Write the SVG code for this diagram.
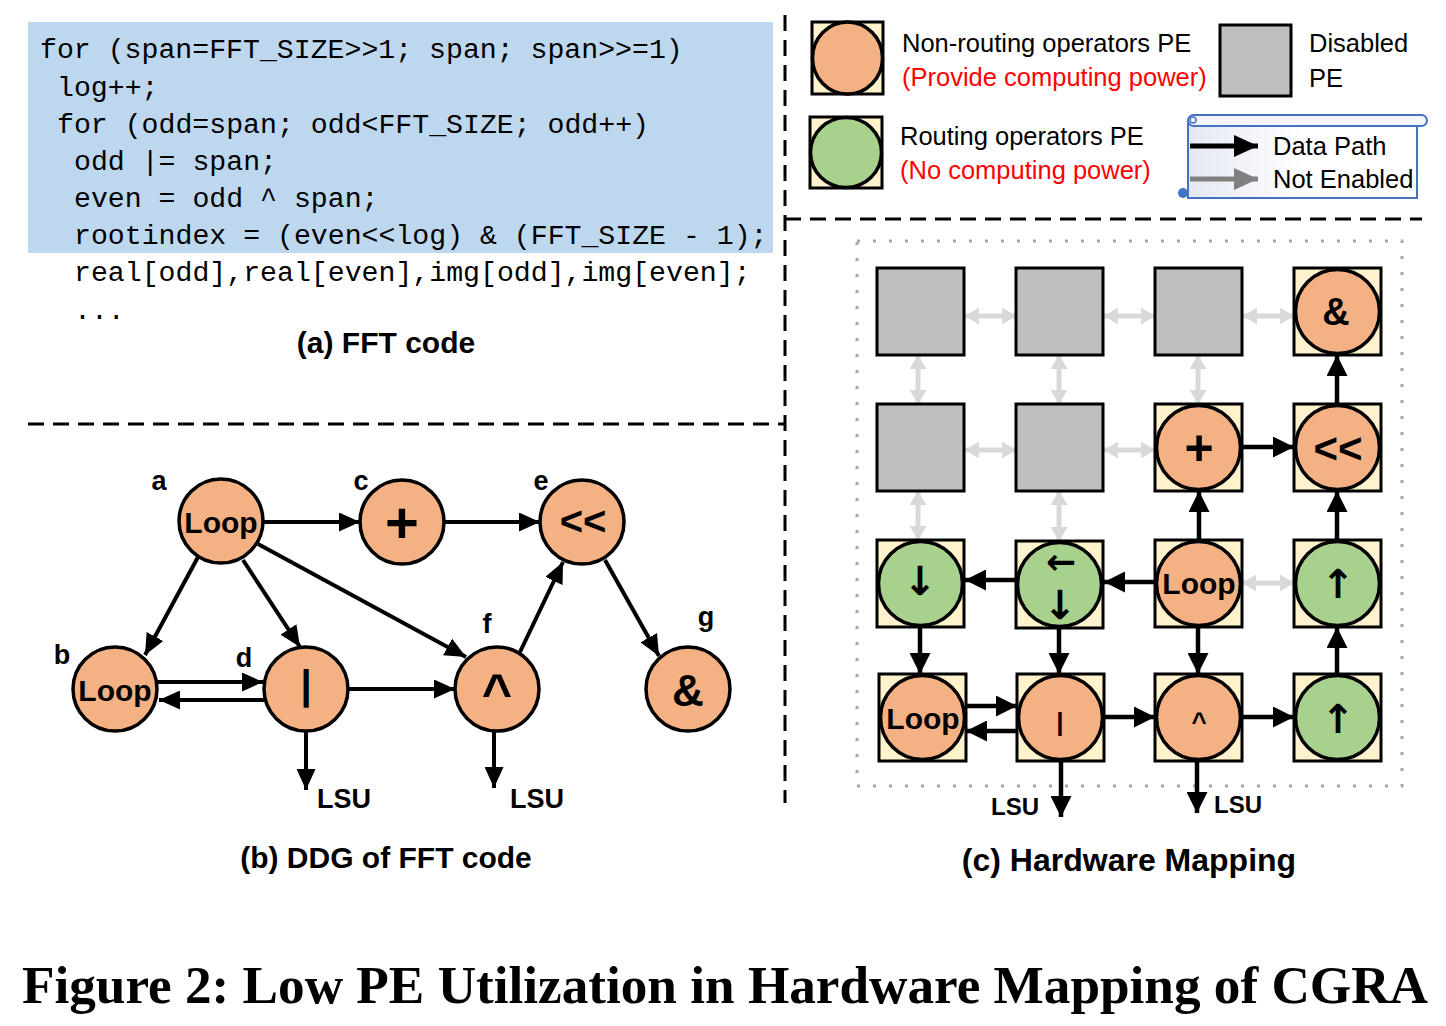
<svg xmlns="http://www.w3.org/2000/svg" width="1446" height="1026" viewBox="0 0 1446 1026">
<style>
.code{font-family:"Liberation Mono","DejaVu Sans Mono",monospace;font-size:28.2px;fill:#000}
.cap{font-family:"Liberation Sans",Arial,sans-serif;font-weight:bold;font-size:30px;text-anchor:middle;fill:#000}
.leg{font-family:"Liberation Sans",Arial,sans-serif;font-size:25.5px;fill:#000}
.red{fill:#ff0000}
.b{font-family:"Liberation Sans",Arial,sans-serif;font-weight:bold;text-anchor:middle;fill:#000}
.ar{font-family:"DejaVu Sans",sans-serif;font-weight:bold;text-anchor:middle;fill:#000}
.op{fill:#f4b183;stroke:#000;stroke-width:3.5}
.gr{fill:#a9d18e;stroke:#000;stroke-width:3.5}
.cell{fill:#fff2cc;stroke:#000;stroke-width:3}
.dis{fill:#bfbfbf;stroke:#000;stroke-width:3}
.dash{stroke:#000;stroke-width:3;stroke-dasharray:16 9;fill:none}
.e{stroke:#000;stroke-width:4;fill:none;marker-end:url(#ah)}
.h{stroke:#000;stroke-width:4.5;fill:none;marker-end:url(#hh)}
.g{stroke:#d9d9d9;stroke-width:5;fill:none;marker-start:url(#gh);marker-end:url(#gh)}
</style>
<defs>
<marker id="ah" markerUnits="userSpaceOnUse" markerWidth="21" markerHeight="19" refX="21" refY="9.5" orient="auto"><path d="M0,0 L21,9.5 L0,19 z" fill="#000"/></marker>
<marker id="hh" markerUnits="userSpaceOnUse" markerWidth="21" markerHeight="21" refX="21" refY="10.5" orient="auto"><path d="M0,0 L21,10.5 L0,21 z" fill="#000"/></marker>
<marker id="gh" markerUnits="userSpaceOnUse" markerWidth="14" markerHeight="17" refX="14" refY="8.5" orient="auto-start-reverse"><path d="M0,0 L14,8.5 L0,17 z" fill="#d9d9d9"/></marker>
<marker id="lb" markerUnits="userSpaceOnUse" markerWidth="24" markerHeight="22" refX="24" refY="11" orient="auto"><path d="M0,0 L24,11 L0,22 z" fill="#000"/></marker>
<marker id="lg" markerUnits="userSpaceOnUse" markerWidth="24" markerHeight="22" refX="24" refY="11" orient="auto"><path d="M0,0 L24,11 L0,22 z" fill="#808080"/></marker>
<linearGradient id="scr" x1="0" y1="0" x2="1" y2="0"><stop offset="0" stop-color="#e4e8f2"/><stop offset="0.5" stop-color="#ffffff"/><stop offset="1" stop-color="#ffffff"/></linearGradient>
</defs>
<rect width="1446" height="1026" fill="#fff"/>

<!-- (a) code -->
<g id="code">
<rect x="28" y="22" width="745" height="231" fill="#bdd7ee"/>
<text class="code" x="40" y="58">for (span=FFT_SIZE&gt;&gt;1; span; span&gt;&gt;=1)</text>
<text class="code" x="57" y="96">log++;</text>
<text class="code" x="57" y="133">for (odd=span; odd&lt;FFT_SIZE; odd++)</text>
<text class="code" x="74" y="170">odd |= span;</text>
<text class="code" x="74" y="207">even = odd ^ span;</text>
<text class="code" x="74" y="244">rootindex = (even&lt;&lt;log) &amp; (FFT_SIZE - 1);</text>
<text class="code" x="74" y="281">real[odd],real[even],img[odd],img[even];</text>
<text class="code" x="74" y="319">...</text>
<text class="cap" x="386" y="353">(a) FFT code</text>
</g>

<!-- dashed separators -->
<g id="separators">
<line class="dash" x1="785" y1="15" x2="785" y2="803"/>
<line class="dash" x1="28" y1="424" x2="785" y2="424"/>
<line class="dash" x1="785" y1="219" x2="1422" y2="219"/>
</g>

<!-- legend -->
<g id="legend-op">
<rect class="cell" x="812" y="22" width="71" height="72"/>
<ellipse class="op" cx="847.5" cy="58" rx="35" ry="36"/>
<text class="leg" x="902" y="52">Non-routing operators PE</text>
<text class="leg red" x="902" y="86">(Provide computing power)</text>
</g>
<g id="legend-disabled">
<rect class="dis" x="1220" y="25" width="71" height="71"/>
<text class="leg" x="1309" y="52">Disabled</text>
<text class="leg" x="1309" y="87">PE</text>
</g>
<g id="legend-route">
<rect class="cell" x="810" y="117" width="72" height="71"/>
<ellipse class="gr" cx="846" cy="152.5" rx="35.5" ry="35"/>
<text class="leg" x="900" y="145">Routing operators PE</text>
<text class="leg red" x="900" y="179">(No computing power)</text>
</g>
<g id="legend-paths">
<path d="M1188,122 L1188,198 L1417,198 L1417,122 Z" fill="url(#scr)" stroke="#4472c4" stroke-width="2"/>
<rect x="1188" y="115" width="239" height="11" rx="5.5" fill="#f4f6fb" stroke="#4472c4" stroke-width="2"/>
<circle cx="1193" cy="120" r="3" fill="none" stroke="#4472c4" stroke-width="1.5"/>
<circle cx="1183" cy="193" r="5" fill="#4472c4"/>
<line x1="1190" y1="146" x2="1258" y2="146" stroke="#000" stroke-width="5" marker-end="url(#lb)"/>
<line x1="1190" y1="179" x2="1258" y2="179" stroke="#808080" stroke-width="5" marker-end="url(#lg)"/>
<text class="leg" x="1273" y="155">Data Path</text>
<text class="leg" x="1273" y="188">Not Enabled</text>
</g>

<!-- (b) DDG -->
<g id="ddg-edges">
<line class="e" x1="263" y1="522" x2="360" y2="522"/>
<line class="e" x1="444" y1="522" x2="540" y2="522"/>
<line class="e" x1="198" y1="557" x2="145" y2="655"/>
<line class="e" x1="243" y1="560" x2="300" y2="647"/>
<line class="e" x1="258" y1="544" x2="466" y2="657"/>
<line class="e" x1="157" y1="682" x2="263" y2="682"/>
<line class="e" x1="265" y1="700" x2="159" y2="700"/>
<line class="e" x1="348" y1="689" x2="455" y2="689"/>
<line class="e" x1="520" y1="652" x2="563" y2="562"/>
<line class="e" x1="605" y1="560" x2="659" y2="656"/>
<line class="e" x1="306" y1="731" x2="306" y2="790"/>
<line class="e" x1="494" y1="731" x2="494" y2="788"/>
</g>
<g id="ddg-a"><circle class="op" cx="221" cy="521" r="42"/><text class="b" x="221" y="533" font-size="30">Loop</text><text class="b" x="159" y="490" font-size="27">a</text></g>
<g id="ddg-c"><circle class="op" cx="402" cy="522" r="42"/><text class="b" x="402" y="543" font-size="58">+</text><text class="b" x="361" y="490" font-size="27">c</text></g>
<g id="ddg-e"><circle class="op" cx="582" cy="522" r="42"/><text class="b" x="583" y="535" font-size="40">&lt;&lt;</text><text class="b" x="541" y="490" font-size="27">e</text></g>
<g id="ddg-b"><circle class="op" cx="115" cy="689" r="42"/><text class="b" x="115" y="701" font-size="30">Loop</text><text class="b" x="62" y="664" font-size="27">b</text></g>
<g id="ddg-d"><circle class="op" cx="306" cy="689" r="42"/><text class="b" x="306" y="699" font-size="40">|</text><text class="b" x="244" y="667" font-size="27">d</text></g>
<g id="ddg-f"><circle class="op" cx="497" cy="689" r="42"/><text class="b" x="497" y="710" font-size="52">^</text><text class="b" x="487" y="633" font-size="27">f</text></g>
<g id="ddg-g"><circle class="op" cx="688" cy="689" r="42"/><text class="b" x="688" y="706" font-size="44">&amp;</text><text class="b" x="706" y="626" font-size="27">g</text></g>
<g id="ddg-lsu">
<text class="b" x="344" y="808" font-size="27">LSU</text>
<text class="b" x="537" y="808" font-size="27">LSU</text>
</g>
<text class="cap" x="386" y="868">(b) DDG of FFT code</text>

<!-- (c) Hardware mapping -->
<rect id="cgra-border" x="857" y="241" width="545" height="545" fill="none" stroke="#a6a6a6" stroke-width="3" stroke-dasharray="3 13"/>
<g id="hw-edges">
<line class="g" x1="965" y1="316" x2="1016" y2="316"/>
<line class="g" x1="1104" y1="316" x2="1155" y2="316"/>
<line class="g" x1="1243" y1="316" x2="1294" y2="316"/>
<line class="g" x1="965" y1="450" x2="1016" y2="450"/>
<line class="g" x1="1104" y1="450" x2="1155" y2="450"/>
<line class="g" x1="918" y1="355" x2="918" y2="404"/>
<line class="g" x1="1059" y1="355" x2="1059" y2="404"/>
<line class="g" x1="1198" y1="355" x2="1198" y2="404"/>
<line class="g" x1="918" y1="491" x2="918" y2="540"/>
<line class="g" x1="1059" y1="491" x2="1059" y2="541"/>
<line class="g" x1="1242" y1="583" x2="1294" y2="583"/>
<line class="h" x1="1242" y1="447" x2="1294" y2="447"/>
<line class="h" x1="1337" y1="404" x2="1337" y2="355"/>
<line class="h" x1="1199" y1="540" x2="1199" y2="491"/>
<line class="h" x1="1337" y1="540" x2="1337" y2="491"/>
<line class="h" x1="1155" y1="582" x2="1104" y2="582"/>
<line class="h" x1="1016" y1="580" x2="965" y2="580"/>
<line class="h" x1="920" y1="627" x2="920" y2="674"/>
<line class="h" x1="1059" y1="627" x2="1059" y2="674"/>
<line class="h" x1="1198" y1="627" x2="1198" y2="674"/>
<line class="h" x1="1337" y1="674" x2="1337" y2="627"/>
<line class="h" x1="966" y1="706" x2="1017" y2="706"/>
<line class="h" x1="1017" y1="731" x2="966" y2="731"/>
<line class="h" x1="1104" y1="717" x2="1155" y2="717"/>
<line class="h" x1="1242" y1="717" x2="1294" y2="717"/>
<line class="h" x1="1061" y1="761" x2="1061" y2="817"/>
<line class="h" x1="1197" y1="761" x2="1197" y2="813"/>
</g>
<g id="pe-r0c0"><rect class="dis" x="877" y="268" width="87" height="87"/></g>
<g id="pe-r0c1"><rect class="dis" x="1016" y="268" width="87" height="87"/></g>
<g id="pe-r0c2"><rect class="dis" x="1155" y="268" width="87" height="87"/></g>
<g id="pe-r0c3"><rect class="cell" x="1294" y="268" width="87" height="87"/><circle class="op" cx="1337.5" cy="311.5" r="42"/><text class="b" x="1336" y="325" font-size="38">&amp;</text></g>
<g id="pe-r1c0"><rect class="dis" x="877" y="404" width="87" height="87"/></g>
<g id="pe-r1c1"><rect class="dis" x="1016" y="404" width="87" height="87"/></g>
<g id="pe-r1c2"><rect class="cell" x="1155" y="404" width="87" height="87"/><circle class="op" cx="1198.5" cy="447.5" r="42"/><text class="b" x="1199" y="465" font-size="50">+</text></g>
<g id="pe-r1c3"><rect class="cell" x="1294" y="404" width="87" height="87"/><circle class="op" cx="1337.5" cy="447.5" r="42"/><text class="b" x="1338" y="463" font-size="42">&lt;&lt;</text></g>
<g id="pe-r2c0"><rect class="cell" x="877" y="540" width="87" height="87"/><circle class="gr" cx="920.5" cy="583.5" r="42"/><text class="ar" x="920" y="595" font-size="40">↓</text></g>
<g id="pe-r2c1"><rect class="cell" x="1016" y="541" width="87" height="87"/><circle class="gr" cx="1059.5" cy="584.5" r="42"/><text class="ar" x="1061" y="574" font-size="36">←</text><text class="ar" x="1060" y="619" font-size="40">↓</text></g>
<g id="pe-r2c2"><rect class="cell" x="1155" y="540" width="87" height="87"/><circle class="op" cx="1198.5" cy="583.5" r="42"/><text class="b" x="1199" y="594" font-size="30">Loop</text></g>
<g id="pe-r2c3"><rect class="cell" x="1294" y="540" width="87" height="87"/><circle class="gr" cx="1337.5" cy="583.5" r="42"/><text class="ar" x="1338" y="598" font-size="40">↑</text></g>
<g id="pe-r3c0"><rect class="cell" x="879" y="674" width="87" height="87"/><circle class="op" cx="922.5" cy="717.5" r="42"/><text class="b" x="923" y="729" font-size="30">Loop</text></g>
<g id="pe-r3c1"><rect class="cell" x="1017" y="674" width="87" height="87"/><circle class="op" cx="1060.5" cy="717.5" r="42"/><text class="b" x="1060" y="731" font-size="26" font-weight="normal">|</text></g>
<g id="pe-r3c2"><rect class="cell" x="1155" y="674" width="87" height="87"/><circle class="op" cx="1198.5" cy="717.5" r="42"/><text class="b" x="1199" y="731" font-size="26">^</text></g>
<g id="pe-r3c3"><rect class="cell" x="1294" y="674" width="87" height="87"/><circle class="gr" cx="1337.5" cy="717.5" r="42"/><text class="ar" x="1338" y="733" font-size="40">↑</text></g>
<g id="hw-lsu">
<text class="b" x="1015" y="815" font-size="24">LSU</text>
<text class="b" x="1238" y="813" font-size="24">LSU</text>
</g>
<text class="cap" x="1129" y="871" style="font-size:32px">(c) Hardware Mapping</text>

<text x="22" y="1003" font-family="'Liberation Serif','Times New Roman',serif" font-weight="bold" font-size="53" fill="#000" textLength="1406" lengthAdjust="spacingAndGlyphs">Figure 2: Low PE Utilization in Hardware Mapping of CGRA</text>
</svg>
